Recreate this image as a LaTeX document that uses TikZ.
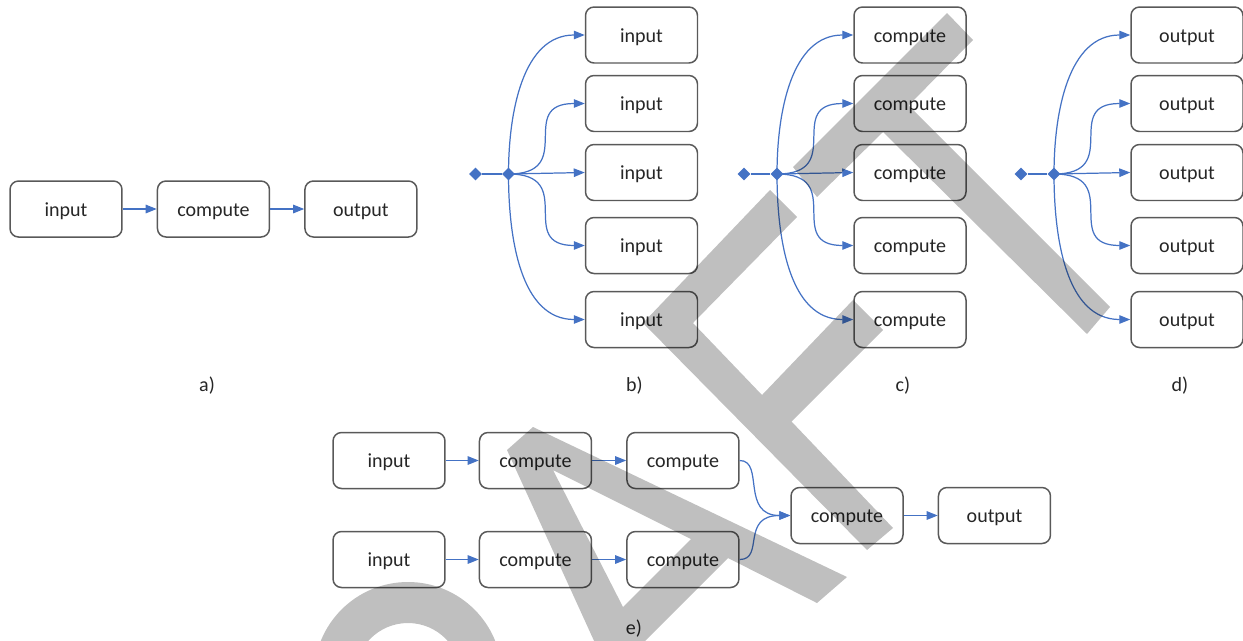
\documentclass[tikz,border=0pt]{standalone}
\usepackage{fontspec}
\setmainfont{Carlito}
\usetikzlibrary{positioning, arrows.meta, shapes.geometric}
\definecolor{flowblue}{HTML}{4472C4}
\definecolor{boxline}{HTML}{595959}
\definecolor{boxtext}{HTML}{262626}
\newcommand{\flowarrow}{-{Triangle[length=2.2mm,width=1.7mm]}}
\newcommand{\boxgap}{0.68cm}
\tikzset{
  block/.style={draw=boxline, line width=0.85pt, rounded corners=0.17cm,
    minimum width=2.24cm, minimum height=1.12cm, inner sep=0pt,
    text height=10.5pt, text depth=2.3pt,
    text=boxtext, font=\fontsize{11.4}{13}\selectfont},
  tag/.style={text=boxtext, font=\fontsize{11.4}{13}\selectfont},
  flow/.style={draw=flowblue, line width=0.7pt},
  knot/.style={diamond, fill=flowblue, inner sep=0pt, minimum size=0.26cm},
  smudge/.style={fill=black, fill opacity=0.25, even odd rule}
}

\begin{document}
\begin{tikzpicture}[x=0.02cm, y=-0.02cm]
    \useasboundingbox (0,0) rectangle (1243,640);

    % a) plain chain
    \node[block] (ain) at (66,209) {input};
    \node[block, right=\boxgap of ain] (acomp) {compute};
    \node[block, right=\boxgap of acomp] (aout) {output};
    \draw[flow, \flowarrow] (ain) -- (acomp);
    \draw[flow, \flowarrow] (acomp) -- (aout);
    \node[tag] (capa) at (207,386) {a)};

    % b) c) d) fan out
    \foreach \col/\word/\cx in {b/input/641.5, c/compute/910, d/output/1187} {
        \node[knot] (start\col) at (\cx-166,174) {};
        \node[knot] (hub\col) at (\cx-133,174) {};
        \foreach \row/\cy in {1/35, 2/103.5, 3/172.5, 4/245.5, 5/319.5}
            \node[block] (\col\row) at (\cx,\cy) {\word};
        \draw[flow] (start\col) -- (hub\col);
        \draw[flow, \flowarrow] (hub\col.center) to[out=90, in=180] (\col1.west);
        \draw[flow, \flowarrow] (hub\col.center) to[out=0, in=180, looseness=1.7] (\col2.west);
        \draw[flow, \flowarrow] (hub\col.center) -- (\col3.west);
        \draw[flow, \flowarrow] (hub\col.center) to[out=0, in=180, looseness=1.7] (\col4.west);
        \draw[flow, \flowarrow] (hub\col.center) to[out=-90, in=180] (\col5.west);
        \node[tag] (cap\col) at (\cx-7,386) {\col)};
    }

    % e) two chains merged
    \foreach \row/\cy in {1/460.5, 2/559.5} {
        \node[block] (ein\row) at (389,\cy) {input};
        \node[block, right=0.66cm of ein\row] (efirst\row) {compute};
        \node[block, right=\boxgap of efirst\row] (esecond\row) {compute};
        \draw[flow, \flowarrow] (ein\row) -- (efirst\row);
        \draw[flow, \flowarrow] (efirst\row) -- (esecond\row);
    }
    \node[block] (emerge) at (847,515.5) {compute};
    \node[block, right=\boxgap of emerge] (eout) {output};
    \draw[flow, \flowarrow] (esecond1.east) .. controls +(25,0) and +(-50,0) .. (emerge.west);
    \draw[flow, \flowarrow] (esecond2.east) .. controls +(25,0) and +(-50,0) .. (emerge.west);
    \draw[flow, \flowarrow] (emerge) -- (eout);
    \node[tag] (cape) at (634,629) {e)};

    % watermark
    \begin{scope}
        \clip (0,0) rectangle (1243,640);
        \fill[smudge] (408,676) circle[radius=94] (408,676) circle[radius=53];
        \fill[smudge] (507,450) -- (533,427) -- (847,577) -- (817,603) -- (728,558)
            -- (642,644) -- (670,700) -- (621,700) -- cycle
            (553,470) -- (691,539) -- (623,607) -- cycle;
        \fill[smudge] (643,323) -- (770,190) -- (797,217) -- (693,323) -- (762,395)
            -- (853,300) -- (883,330) -- (791.5,421.5) -- (893,528) -- (867,550) -- cycle;
        \fill[smudge] (793,167) -- (947,13) -- (973,40) -- (908.5,105.5) -- (1110,307)
            -- (1087,334) -- (883,132) -- (817,197) -- cycle;
    \end{scope}
\end{tikzpicture}
\end{document}
